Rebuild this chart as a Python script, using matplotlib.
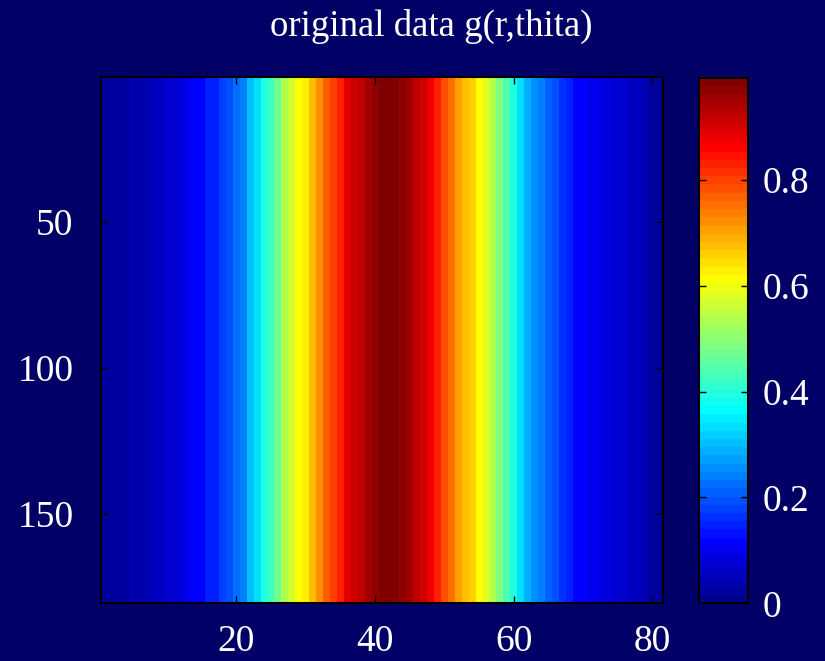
import numpy as np
import matplotlib
matplotlib.use("Agg")
import matplotlib.pyplot as plt
from matplotlib.colors import ListedColormap

# ---- data ----
col_values = [0.02, 0.02, 0.025, 0.025, 0.035, 0.037, 0.04, 0.05, 0.055, 0.065,
              0.07, 0.085, 0.10, 0.115, 0.12, 0.145, 0.15, 0.18, 0.195, 0.22,
              0.24, 0.305, 0.335, 0.40, 0.43, 0.48, 0.53, 0.57, 0.62, 0.635,
              0.68, 0.725, 0.77, 0.805, 0.835, 0.885, 0.90, 0.93, 0.95, 0.975,
              0.98, 0.993, 0.985, 0.975, 0.95, 0.93, 0.90, 0.87, 0.835, 0.79,
              0.745, 0.71, 0.68, 0.66, 0.62, 0.585, 0.54, 0.49, 0.445, 0.40,
              0.335, 0.29, 0.26, 0.24, 0.21, 0.195, 0.165, 0.15, 0.12, 0.115,
              0.10, 0.095, 0.085, 0.08, 0.07, 0.065, 0.055, 0.05, 0.04, 0.025,
              0.02]
n_rows = 180
x_ticks = [20, 40, 60, 80]
y_ticks = [50, 100, 150]
cbar_ticks = [0, 0.2, 0.4, 0.6, 0.8]
cbar_labels = ["0", "0.2", "0.4", "0.6", "0.8"]
title_text = "original data g(r,thita)"

# MATLAB-style jet(64)
def matlab_jet(m=64):
    n = int(np.ceil(m / 4))
    u = np.concatenate([np.arange(1, n + 1) / n, np.ones(n - 1), np.arange(n, 0, -1) / n])
    g = int(np.ceil(n / 2)) - (1 if m % 4 == 1 else 0) + np.arange(1, len(u) + 1)
    r = g + n
    b = g - n
    J = np.zeros((m, 3))
    for idx, ch in ((r, 0), (g, 1), (b, 2)):
        ok = (idx >= 1) & (idx <= m)
        J[idx[ok] - 1, ch] = u[ok]
    return ListedColormap(J)

cmap = matlab_jet(64)
data = np.tile(np.array(col_values), (n_rows, 1))
ncols = len(col_values)

BG = "#000066"
W, H = 825, 661
fig = plt.figure(figsize=(W / 100, H / 100), dpi=100, facecolor=BG)
font = "Liberation Serif"
FS = 27

def px(l, t, r, b):
    return [l / W, 1 - b / H, (r - l) / W, (b - t) / H]

ax = fig.add_axes(px(101.2, 77.3, 662.7, 603.3))
im = ax.imshow(data, cmap=cmap, vmin=0, vmax=max(col_values), aspect="auto",
               interpolation="nearest",
               extent=(0.5, ncols + 0.5, n_rows + 0.5, 0.5))
ax.set_xticks(x_ticks)
ax.set_yticks(y_ticks)
ax.tick_params(direction="in", length=5, width=1, color="black",
               labelcolor="white", labelsize=FS, top=True, right=True)
ax.tick_params(axis="x", pad=15)
ax.tick_params(axis="y", pad=20)
for lab in ax.get_xticklabels() + ax.get_yticklabels():
    lab.set_fontfamily(font)
for s in ax.spines.values():
    s.set_color("black")
    s.set_linewidth(1.5)

cax = fig.add_axes(px(699, 77.7, 747.7, 603.3))
cb = fig.colorbar(im, cax=cax)
cb.set_ticks(cbar_ticks)
cb.set_ticklabels(cbar_labels)
cax.set_ylim(0, max(col_values))
cax.tick_params(direction="in", length=5, width=1, color="black",
                labelcolor="white", labelsize=FS, left=True, right=True,
                labelleft=False, labelright=True, pad=11)
for lab in cax.get_yticklabels():
    lab.set_fontfamily(font)
cb.outline.set_edgecolor("black")
cb.outline.set_linewidth(1.5)

fig.text(431 / W, 1 - 36 / H, title_text, color="white", fontsize=26.5,
         family=font, ha="center", va="baseline")

fig.savefig("out.png", dpi=100, facecolor=BG)
